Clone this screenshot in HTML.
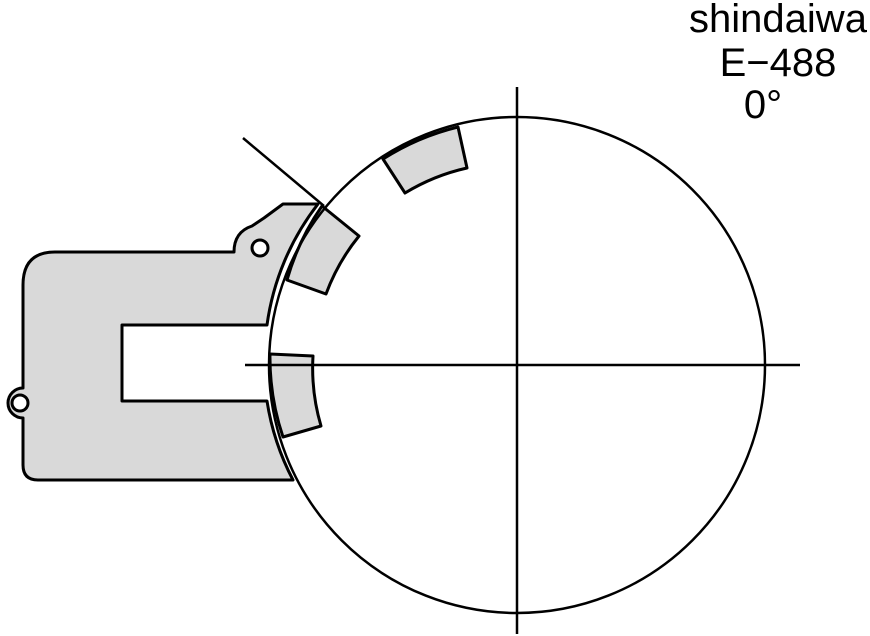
<!DOCTYPE html>
<html><head><style>
html,body{margin:0;padding:0;background:#fff;width:870px;height:636px;overflow:hidden}
</style></head><body>
<svg width="870" height="636" viewBox="0 0 870 636" xmlns="http://www.w3.org/2000/svg">
<g stroke="#000" stroke-width="3" fill="#d9d9d9" stroke-linejoin="round">
<path d="M283,204 L318,204 A253,253 0 0 0 267,325 L122,325 L122,401 L267,401 A253,253 0 0 0 293,480 L38,480 Q23,480 23,465 L23,418 A15,15 0 1 1 23,388 L23,285 Q23,252 55,252 L234,252 Q234,232 252,226 L264,218 Z"/>
<circle cx="260" cy="248" r="8" fill="#fff"/>
<circle cx="20" cy="403" r="8" fill="#fff"/>
<path d="M383,159 A248,248 0 0 1 458,127 L467,168 A205,205 0 0 0 405,193 Z"/>
<path d="M322,206 L359,236 A205,205 0 0 0 326,294 L287,280 A248,248 0 0 1 322,206 Z"/>
<path d="M270,354 L313,356 A205,205 0 0 0 321,426 L283,437 A248,248 0 0 1 270,354 Z"/>
</g>
<g stroke="#000" stroke-width="2.5" fill="none">
<circle cx="517" cy="365" r="248"/>
<line x1="517" y1="87" x2="517" y2="634"/>
<line x1="245" y1="365" x2="800" y2="365"/>
<line x1="243" y1="138" x2="324" y2="206"/>
</g>
<g font-family="Liberation Sans, sans-serif" font-size="40" text-anchor="middle" fill="#000">
<text x="778" y="32">shindaiwa</text>
<text x="778" y="76">E−488</text>
<text x="763" y="118">0°</text>
</g>
</svg>
</body></html>
